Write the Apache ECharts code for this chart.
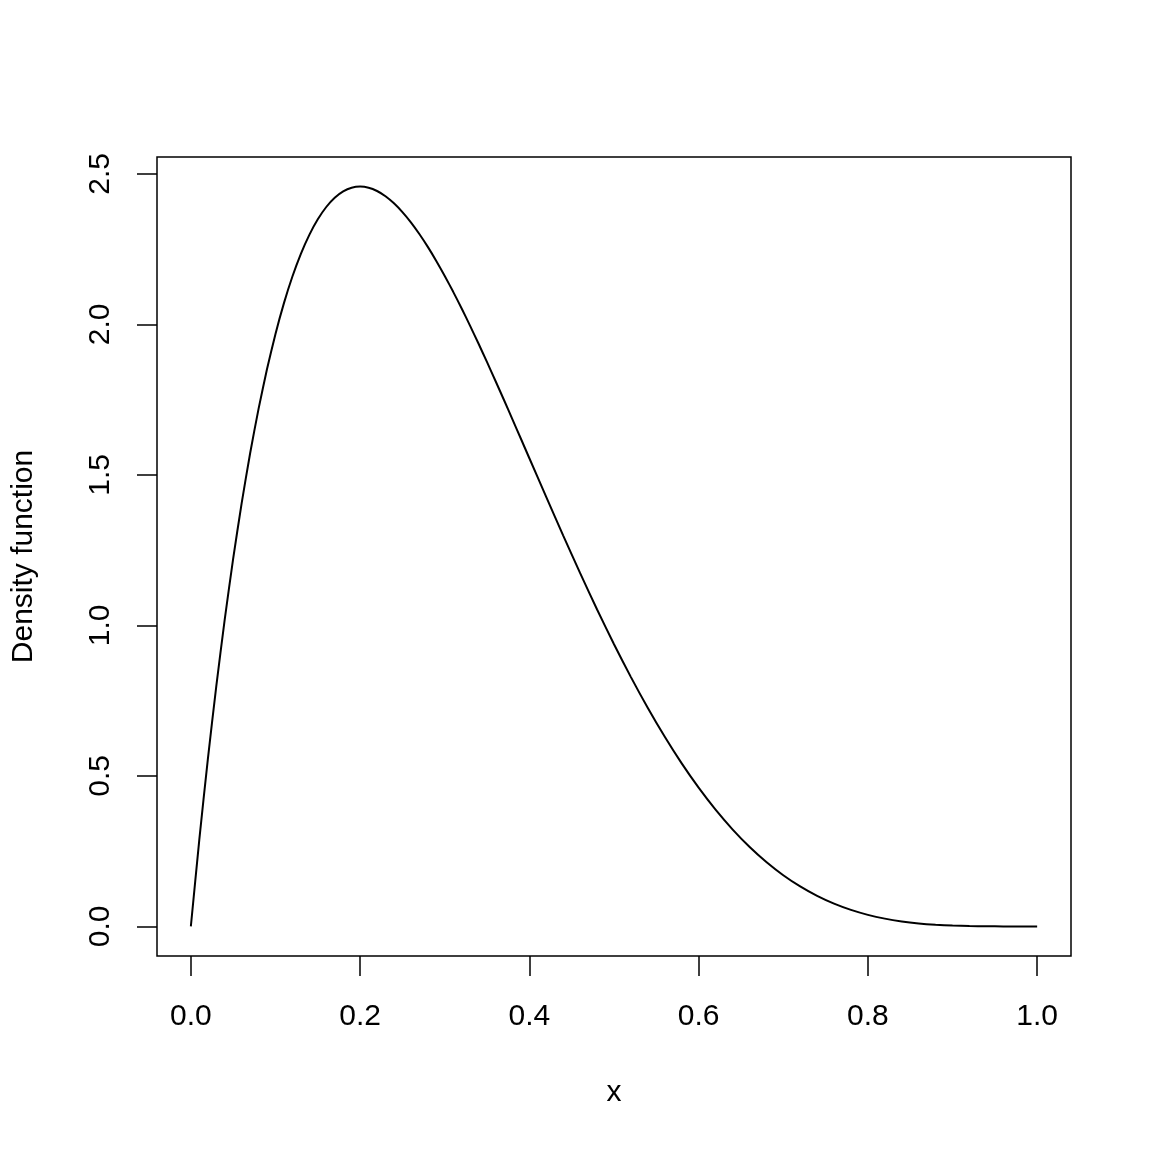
<!DOCTYPE html>
<html>
<head>
<meta charset="utf-8">
<script src="https://cdn.jsdelivr.net/npm/echarts@6/dist/echarts.min.js"></script>
<style>
html,body{margin:0;padding:0;background:#fff;}
#chart{width:1152px;height:1152px;}
</style>
</head>
<body>
<div id="chart"></div>
<script>
var xValues = [0, 0.01, 0.02, 0.03, 0.04, 0.05, 0.06, 0.07, 0.08, 0.09, 0.10,
  0.11, 0.12, 0.13, 0.14, 0.15, 0.16, 0.17, 0.18, 0.19, 0.20,
  0.21, 0.22, 0.23, 0.24, 0.25, 0.26, 0.27, 0.28, 0.29, 0.30,
  0.31, 0.32, 0.33, 0.34, 0.35, 0.36, 0.37, 0.38, 0.39, 0.40,
  0.42, 0.44, 0.46, 0.48, 0.50,
  0.52, 0.54, 0.56, 0.58, 0.60, 0.62, 0.64, 0.66, 0.68, 0.70, 0.72, 0.74, 0.76, 0.78, 0.80,
  0.82, 0.84, 0.86, 0.88, 0.90, 0.92, 0.94, 0.96, 0.98, 1.00];
var densityValues = [0, 0.2882, 0.5534, 0.7968, 1.0192, 1.2218, 1.4053, 1.5709, 1.7193, 1.8515, 1.9683,
  2.0705, 2.1589, 2.2343, 2.2974, 2.3490, 2.3898, 2.4203, 2.4414, 2.4537, 2.4576,
  2.4539, 2.4430, 2.4256, 2.4021, 2.3730, 2.3390, 2.3003, 2.2574, 2.2108, 2.1609,
  2.1080, 2.0526, 1.9950, 1.9354, 1.8743, 1.8119, 1.7486, 1.6845, 1.6200, 1.5552,
  1.4259, 1.2982, 1.1734, 1.0529, 0.9375,
  0.8281, 0.7254, 0.6297, 0.5414, 0.4608, 0.3878, 0.3225, 0.2646, 0.2139, 0.1701, 0.1328, 0.1014, 0.0756, 0.0548, 0.0384,
  0.0258, 0.0165, 0.0099, 0.0055, 0.0027, 0.0011, 0.0004, 0.0001, 0.0000, 0];
var xTicks = [0, 0.2, 0.4, 0.6, 0.8, 1.0];
var yTicks = [0, 0.5, 1.0, 1.5, 2.0, 2.5];
var xLabel = 'x';
var yLabel = 'Density function';

var points = xValues.map(function (x, i) { return [x, densityValues[i]]; });
var font = 'Liberation Sans, Arial, Helvetica, sans-serif';
var chart = echarts.init(document.getElementById('chart'), null, {renderer: 'canvas'});
chart.setOption({
  animation: false,
  backgroundColor: '#ffffff',
  grid: {left: 157, top: 157, width: 914, height: 799, show: true, borderColor: '#000', borderWidth: 1.5, backgroundColor: 'transparent'},
  xAxis: {
    type: 'value', min: -0.04, max: 1.04, position: 'bottom',
    name: xLabel, nameLocation: 'middle', nameGap: 122,
    nameTextStyle: {fontFamily: font, fontSize: 30, color: '#000'},
    axisLine: {show: false, onZero: false},
    axisTick: {show: true, inside: false, length: 20, customValues: xTicks, lineStyle: {color: '#000', width: 1.5}},
    axisLabel: {show: true, customValues: xTicks, margin: 46, fontFamily: font, fontSize: 30, color: '#000',
      formatter: function (v) { return v.toFixed(1); }},
    splitLine: {show: false}
  },
  yAxis: {
    type: 'value', min: -0.098304, max: 2.555904, position: 'left',
    name: yLabel, nameLocation: 'middle', nameGap: 118, nameRotate: 90,
    nameTextStyle: {fontFamily: font, fontSize: 30, color: '#000'},
    axisLine: {show: false, onZero: false},
    axisTick: {show: true, inside: false, length: 20, customValues: yTicks, lineStyle: {color: '#000', width: 1.5}},
    axisLabel: {show: true, customValues: yTicks, margin: 41, rotate: 90, fontFamily: font, fontSize: 30, color: '#000',
      formatter: function (v) { return v.toFixed(1); }},
    splitLine: {show: false}
  },
  series: [{
    type: 'line', data: points, showSymbol: false, smooth: 0.2,
    lineStyle: {color: '#000', width: 2}, clip: true
  }]
});
</script>
</body>
</html>
